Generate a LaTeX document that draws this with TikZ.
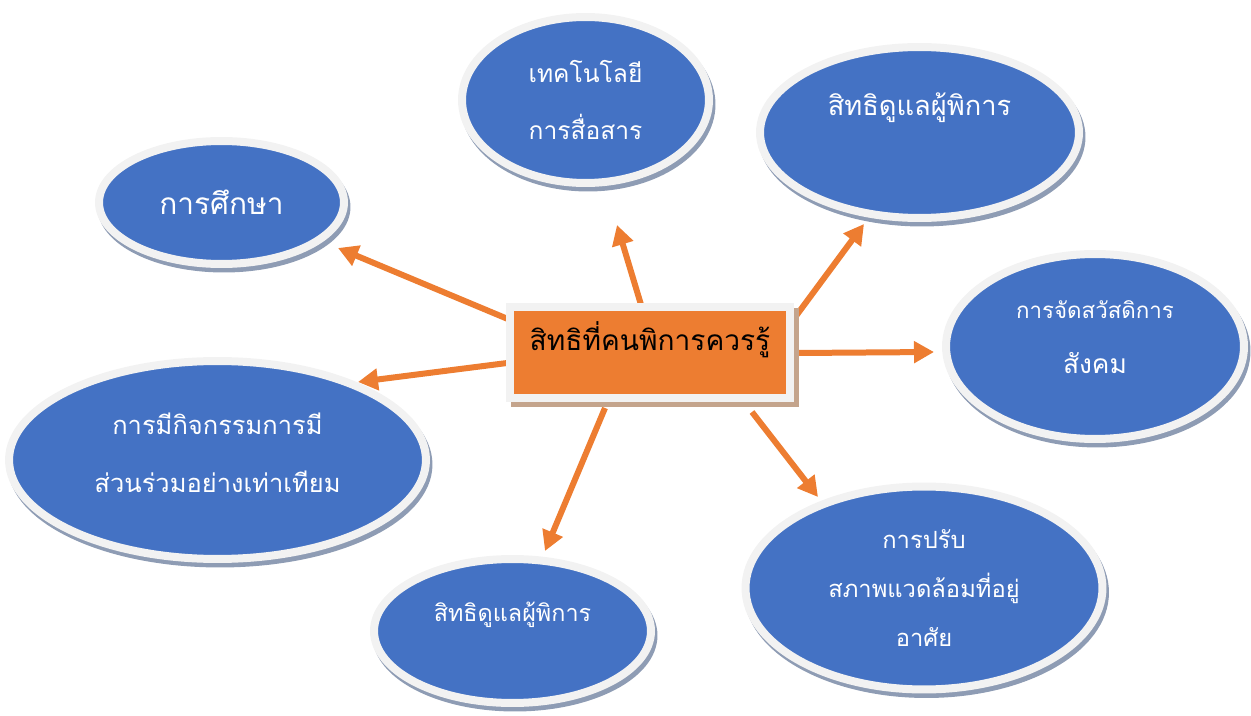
\documentclass[tikz,border=0pt]{standalone}
\usepackage{fontspec}
\newfontfamily\thaifont[Script=Thai]{Loma}
\usetikzlibrary{arrows.meta, positioning, shapes.geometric, calc, shadows, backgrounds}
\usepackage{xcolor}
\definecolor{hubcol}{HTML}{ED7D31}
\definecolor{bubblecol}{HTML}{4472C4}
\definecolor{rimcol}{HTML}{F2F2F2}
\definecolor{bubshadow}{HTML}{8E9CB4}
\definecolor{hubshadow}{HTML}{C4A48C}
\definecolor{arrowcol}{HTML}{ED7D31}

\begin{document}
\begin{tikzpicture}[
    x=0.02cm, y=-0.02cm,
    >={Triangle[length=0.4cm, width=0.42cm]},
    bubble/.style={
        ellipse, draw=rimcol, fill=bubblecol, line width=0.16cm, inner sep=0pt,
        align=center, text=white,
        general shadow={draw=bubshadow, fill=bubshadow,
                        shadow xshift=0.05cm, shadow yshift=-0.09cm}
    },
    hubbox/.style={
        rectangle, draw=rimcol, fill=hubcol, line width=0.16cm, inner sep=0pt,
        minimum width=5.6cm, minimum height=1.82cm, align=center, text=black,
        general shadow={draw=hubshadow, fill=hubshadow,
                        shadow xshift=0.1cm, shadow yshift=-0.1cm}
    },
    link/.style={->, arrowcol, line width=0.12cm},
]
\useasboundingbox (0,0) rectangle (1251,716);

% ── Centre box ──
\node[hubbox, text depth=19pt, font=\thaifont\fontsize{16}{20}\selectfont] (hub) at (650,352.5)
    {สิทธิที่คนพิการควรรู้};

% ── Bubbles ──
\node[bubble, minimum width=4.9cm, minimum height=2.46cm,
      font=\thaifont\fontsize{17}{20}\selectfont] (edu) at (221.5,202.5)
    {การศึกษา};

\node[bubble, minimum width=4.94cm, minimum height=3.32cm,
      font=\thaifont\fontsize{14}{33}\selectfont] (tech) at (585.5,100)
    {เทคโนโลยี\\การสื่อสาร};

\node[bubble, minimum width=6.38cm, minimum height=3.42cm, text depth=32pt,
      font=\thaifont\fontsize{15.5}{20}\selectfont] (care) at (919.5,132.5)
    {สิทธิดูแลผู้พิการ};

\node[bubble, minimum width=5.96cm, minimum height=3.7cm, text depth=11pt,
      font=\thaifont\fontsize{15}{31}\selectfont] (welfare) at (1095,346.5)
    {{\fontsize{12.7}{31}\selectfont การจัดสวัสดิการ}\\สังคม};

\node[bubble, minimum width=8.34cm, minimum height=3.96cm, text depth=8pt,
      font=\thaifont\fontsize{14.5}{33}\selectfont] (part) at (217.5,460)
    {การมีกิจกรรมการมี\\ส่วนร่วมอย่างเท่าเทียม};

\node[bubble, minimum width=5.54cm, minimum height=2.88cm, text depth=22pt,
      font=\thaifont\fontsize{13.3}{20}\selectfont] (care2) at (512.5,631)
    {สิทธิดูแลผู้พิการ};

\node[bubble, minimum width=7.14cm, minimum height=4.06cm,
      font=\thaifont\fontsize{13.5}{28}\selectfont] (home) at (924,588)
    {การปรับ\\สภาพแวดล้อมที่อยู่\\อาศัย};

% ── Arrow ends ──
\coordinate (s1) at ($(hub.center)+(-135,-30.5)$);
\coordinate (s2) at ($(hub.center)+(-8,-44.5)$);
\coordinate (s3) at ($(hub.center)+(143,-32.5)$);
\coordinate (s4) at ($(hub.center)+(148,0.5)$);
\coordinate (s5) at ($(hub.center)+(-135,9.5)$);
\coordinate (s6) at ($(hub.center)+(-45,55.5)$);
\coordinate (s7) at ($(hub.center)+(102,59.5)$);

\coordinate (e1) at ($(edu.center)+(116.5,45.5)$);
\coordinate (e2) at ($(tech.center)+(31.5,125)$);
\coordinate (e3) at ($(care.center)+(-55.5,91.5)$);
\coordinate (e4) at ($(welfare.center)+(-161,5.5)$);
\coordinate (e5) at ($(part.center)+(140.5,-78)$);
\coordinate (e6) at ($(care2.center)+(32.5,-80)$);
\coordinate (e7) at ($(home.center)+(-106,-91)$);

% ── Arrows (behind the box) ──
\begin{scope}[on background layer]
\draw[link] (s1) -- (e1);
\draw[link] (s2) -- (e2);
\draw[link] (s3) -- (e3);
\draw[link] (s4) -- (e4);
\draw[link] (s5) -- (e5);
\draw[link] (s6) -- (e6);
\draw[link] (s7) -- (e7);
\end{scope}

\end{tikzpicture}
\end{document}
